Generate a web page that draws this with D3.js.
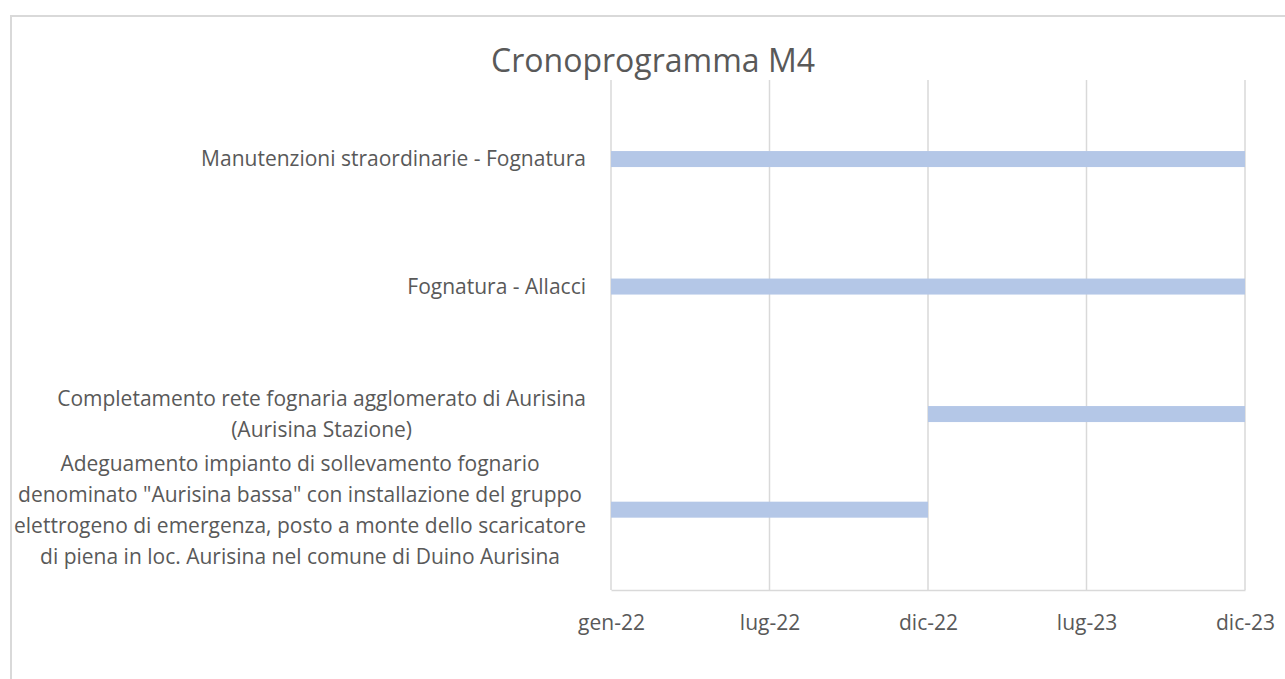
<!DOCTYPE html>
<html>
<head>
<meta charset="utf-8">
<script src="https://cdn.jsdelivr.net/npm/d3@7"></script>
<style>
  body { margin: 0; background: #fff; }
  svg text { font-family: "Open Sans", "Liberation Sans", sans-serif; fill: #595959; }
</style>
</head>
<body>
<div id="chart"></div>
<script>
// Configuration
const width = 1285;
const height = 679;
const margin = { top: 80, right: 40, bottom: 89, left: 611 };

// --- Data ---
const tasks = [
    ["Manutenzioni straordinarie - Fognatura"],
    ["Fognatura  - Allacci"],
    ["Completamento rete fognaria agglomerato di Aurisina", "(Aurisina Stazione)"],
    ["Adeguamento impianto di sollevamento fognario",
     "denominato \"Aurisina bassa\" con installazione del gruppo",
     "elettrogeno di emergenza, posto a monte dello scaricatore",
     "di piena in loc. Aurisina nel comune di Duino Aurisina"]
];
const startDates = ["2022-01-01", "2022-01-01", "2022-12-31", "2022-01-01"];
const endDates = ["2023-12-30", "2023-12-30", "2023-12-30", "2022-12-31"];
const rows = [3.38, 2.38, 1.38, 0.63];   // vertical position of each task
const tickDates = ["2022-01-01", "2022-07-02", "2022-12-31", "2023-07-01", "2023-12-30"];

const parse = d3.timeParse("%Y-%m-%d");
const it = d3.timeFormatLocale({
    dateTime: "%A %e %B %Y, %X", date: "%d/%m/%Y", time: "%H:%M:%S",
    periods: ["AM", "PM"],
    days: ["Domenica", "Lunedì", "Martedì", "Mercoledì", "Giovedì", "Venerdì", "Sabato"],
    shortDays: ["Dom", "Lun", "Mar", "Mer", "Gio", "Ven", "Sab"],
    months: ["Gennaio", "Febbraio", "Marzo", "Aprile", "Maggio", "Giugno", "Luglio", "Agosto", "Settembre", "Ottobre", "Novembre", "Dicembre"],
    shortMonths: ["gen", "feb", "mar", "apr", "mag", "giu", "lug", "ago", "set", "ott", "nov", "dic"]
});

const data = tasks.map((lines, i) => ({
    lines,
    start: parse(startDates[i]),
    end: parse(endDates[i]),
    row: rows[i]
}));
const ticks = tickDates.map(parse);

const svg = d3.select("#chart")
    .append("svg")
    .attr("width", width)
    .attr("height", height);

// chart frame (runs off the canvas on the right and bottom)
svg.append("rect")
    .attr("x", 11).attr("y", 16)
    .attr("width", width + 20).attr("height", height + 20)
    .attr("fill", "none")
    .attr("stroke", "#d9d9d9")
    .attr("stroke-width", 2);

const x = d3.scaleTime()
    .domain([ticks[0], ticks[ticks.length - 1]])
    .range([margin.left, width - margin.right]);

const y = d3.scaleLinear()
    .domain([0, 4])
    .range([height - margin.bottom, margin.top]);

// Title
svg.append("text")
    .attr("x", 653)
    .attr("y", 72)
    .attr("text-anchor", "middle")
    .style("font-size", "32px")
    .text("Cronoprogramma M4");

// Gridlines
svg.append("g")
    .selectAll("line")
    .data(ticks)
    .join("line")
    .attr("x1", d => x(d)).attr("x2", d => x(d))
    .attr("y1", y(4)).attr("y2", y(0))
    .attr("stroke", "#d9d9d9")
    .attr("stroke-width", 1.5);

// X axis
const xAxis = svg.append("g")
    .attr("transform", `translate(0,${y(0)})`)
    .call(d3.axisBottom(x)
        .tickValues(ticks)
        .tickFormat(it.format("%b-%y"))
        .tickSize(0)
        .tickPadding(25));
xAxis.select(".domain").attr("stroke", "#d9d9d9").attr("stroke-width", 1.5);
xAxis.selectAll("text")
    .style("font-size", "21px")
    .attr("fill", "#595959");

// Bars
const barH = 16;
svg.append("g")
    .selectAll("rect")
    .data(data)
    .join("rect")
    .attr("x", d => x(d.start))
    .attr("width", d => x(d.end) - x(d.start))
    .attr("y", d => y(d.row) - barH / 2)
    .attr("height", barH)
    .attr("fill", "#b4c7e7");

// Category labels: wrapped lines centred within a right-aligned block
const lineH = 31;
const labelRight = 586;
const label = svg.append("g")
    .selectAll("g")
    .data(data)
    .join("g");

label.each(function (d) {
    const g = d3.select(this);
    const n = d.lines.length;
    const texts = g.selectAll("text")
        .data(d.lines)
        .join("text")
        .attr("text-anchor", "middle")
        .attr("dy", "0.35em")
        .attr("y", (l, j) => y(d.row) + (j - (n - 1) / 2) * lineH)
        .style("font-size", "21px")
        .text(l => l);
    let maxW = 0;
    texts.each(function () { maxW = Math.max(maxW, this.getComputedTextLength()); });
    texts.attr("x", labelRight - maxW / 2);
});
</script>
</body>
</html>
